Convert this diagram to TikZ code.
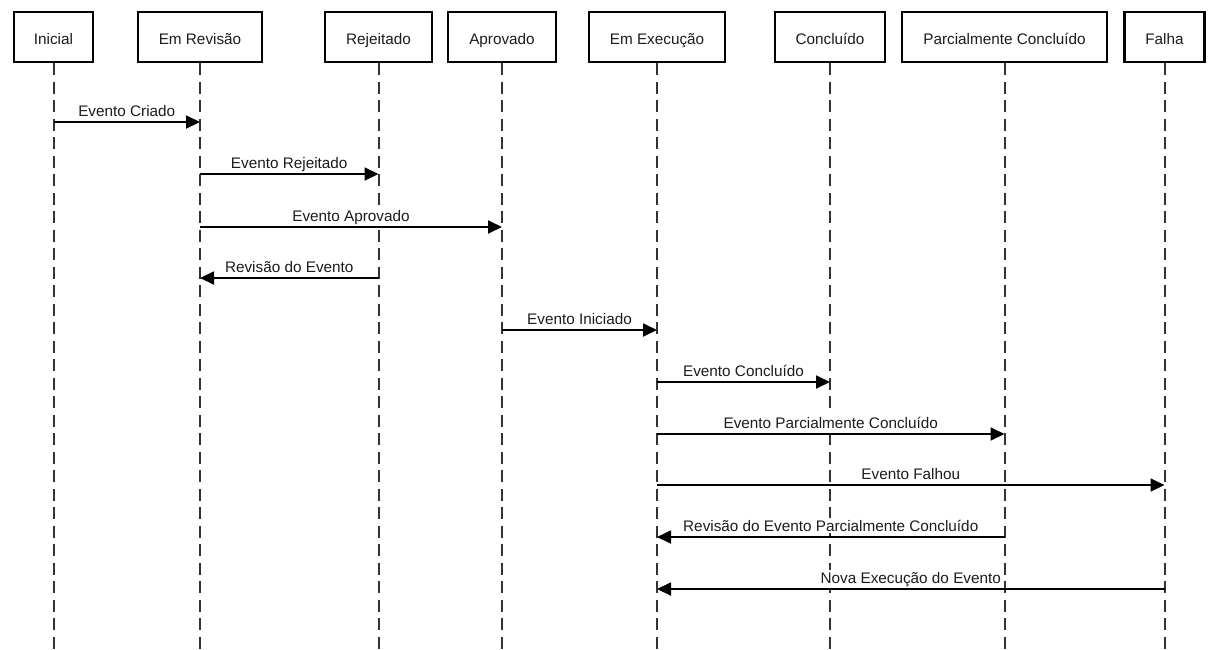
\documentclass[tikz,border=0pt]{standalone}
\usepackage{fontspec}
\setmainfont{Liberation Sans}
\usetikzlibrary{arrows.meta}
\definecolor{ink}{HTML}{1C1C1C}
\definecolor{lifegray}{HTML}{333333}
\begin{document}
\begin{tikzpicture}[x=1pt,y=-1pt,
  font=\fontsize{15.3}{18}\selectfont, text=ink,
  actor/.style={draw=black, line width=2.8pt, fill=white, minimum height=50pt,
                inner sep=0pt, text height=14pt, text depth=0pt, anchor=center},
  lifeline/.style={draw=lifegray, line width=2pt, dash pattern=on 12pt off 6.5pt},
  msg/.style={draw=black, line width=1.8pt, -{Triangle[length=14pt,width=13pt]}},
  msglabel/.style={anchor=base, fill=white, inner sep=1.5pt}]
\useasboundingbox[fill=white] (0,0) rectangle (1212,649);

% participants
\node[actor, minimum width=79pt]  (ini) at (53.5,37)  {Inicial};
\node[actor, minimum width=124pt] (rev) at (200,37)   {Em Revisão};
\node[actor, minimum width=107pt] (rej) at (378.5,37) {Rejeitado};
\node[actor, minimum width=108pt] (apr) at (502,37)   {Aprovado};
\node[actor, minimum width=136pt] (exe) at (657,37)   {Em Execução};
\node[actor, minimum width=110pt] (con) at (830,37)   {Concluído};
\node[actor, minimum width=205pt] (par) at (1004.5,37){Parcialmente Concluído};
\node[actor, minimum width=80pt]  (fal) at (1164.5,37){Falha};

% lifelines
\coordinate (bottom) at (0,649);
\foreach \p in {ini,rev,rej,apr,exe,con,par,fal}
  \draw[lifeline] (\p.south) -- (\p.south |- bottom);

% message rows
\coordinate (m1)  at (0,122);
\coordinate (m2)  at (0,174);
\coordinate (m3)  at (0,227);
\coordinate (m4)  at (0,278);
\coordinate (m5)  at (0,330);
\coordinate (m6)  at (0,382);
\coordinate (m7)  at (0,434);
\coordinate (m8)  at (0,485);
\coordinate (m9)  at (0,537);
\coordinate (m10) at (0,589);

% messages: source, target, row, label
\foreach \s/\t/\r/\l in {
    ini/rev/m1/{Evento Criado},
    rev/rej/m2/{Evento Rejeitado},
    rev/apr/m3/{Evento Aprovado},
    rej/rev/m4/{Revisão do Evento},
    apr/exe/m5/{Evento Iniciado},
    exe/con/m6/{Evento Concluído},
    exe/par/m7/{Evento Parcialmente Concluído},
    exe/fal/m8/{Evento Falhou},
    par/exe/m9/{Revisão do Evento Parcialmente Concluído},
    fal/exe/m10/{Nova Execução do Evento}} {
  \draw[msg] (\s |- \r) -- (\t |- \r);
  \path (\s |- \r) -- (\t |- \r)
    node[msglabel, pos=0.5, yshift=6pt] {\l};
}
\end{tikzpicture}
\end{document}
